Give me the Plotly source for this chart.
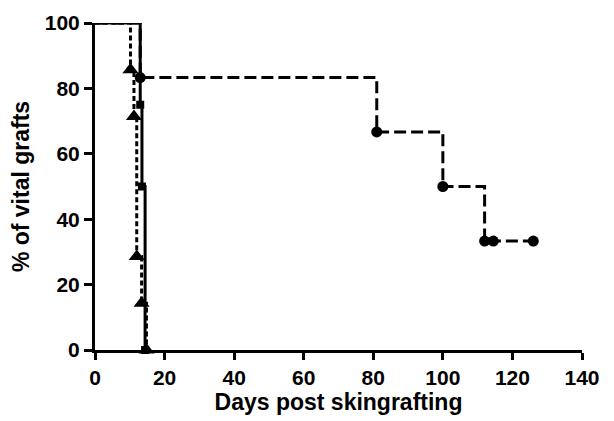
import plotly.graph_objects as go

# Kaplan-Meier style data (days, % vital grafts)
days_circle = [0, 13.0, 81, 100, 112, 114.5, 126]
surv_circle = [100, 83.3, 66.7, 50, 33.3, 33.3, 33.3]

days_tri = [0, 10.2, 11.2, 12.0, 13.4, 14.8]
surv_tri = [100, 85.7, 71.4, 28.6, 14.3, 0]

days_sq = [0, 13.0, 13.5, 14.4]
surv_sq = [100, 75, 50, 0]

x_ticks = [0, 20, 40, 60, 80, 100, 120, 140]
y_ticks = [0, 20, 40, 60, 80, 100]

fig = go.Figure()

# dashed / circles
fig.add_trace(go.Scatter(x=days_circle, y=surv_circle, mode="lines", line_shape="hv",
                         line=dict(color="black", width=3, dash="12px,5px"),
                         cliponaxis=False, showlegend=False))
fig.add_trace(go.Scatter(x=days_circle[1:], y=surv_circle[1:], mode="markers",
                         marker=dict(symbol="circle", size=11, color="black"),
                         cliponaxis=False, showlegend=False))
# dotted / triangles
fig.add_trace(go.Scatter(x=days_tri, y=surv_tri, mode="lines", line_shape="hv",
                         line=dict(color="black", width=3, dash="5px,3px"),
                         cliponaxis=False, showlegend=False))
fig.add_trace(go.Scatter(x=days_tri[1:], y=surv_tri[1:], mode="markers",
                         marker=dict(symbol="triangle-up", size=14, color="black"),
                         cliponaxis=False, showlegend=False))
# solid / squares
fig.add_trace(go.Scatter(x=days_sq, y=surv_sq, mode="lines", line_shape="hv",
                         line=dict(color="black", width=3),
                         cliponaxis=False, showlegend=False))
fig.add_trace(go.Scatter(x=days_sq[1:], y=surv_sq[1:], mode="markers",
                         marker=dict(symbol="square", size=8, color="black"),
                         cliponaxis=False, showlegend=False))

tick_font = dict(family="Liberation Sans, Arial", size=21, color="black")
title_font = dict(family="Liberation Sans, Arial", size=23, color="black")
# page body has an 8px default margin, so the figure is 8px smaller each way
fig.update_layout(
    width=606, height=413,
    margin=dict(l=87, r=32, t=15, b=71, autoexpand=False),
    plot_bgcolor="white", paper_bgcolor="white",
    font=dict(family="Liberation Sans, Arial", color="black"),
    xaxis=dict(range=[0, 140], tickvals=x_ticks, ticktext=[f"<b>{v}</b>" for v in x_ticks],
               showgrid=False, zeroline=False, showline=True, linecolor="black", linewidth=3,
               ticks="outside", ticklen=7, tickwidth=3, tickcolor="black",
               tickfont=tick_font, automargin=False,
               title=dict(text="<b>Days post skingrafting</b>", font=title_font, standoff=4)),
    yaxis=dict(range=[0, 100], tickvals=y_ticks, ticktext=[f"<b>{v}</b>" for v in y_ticks],
               showgrid=False, zeroline=False, showline=True, linecolor="black", linewidth=3,
               ticks="outside", ticklen=8, tickwidth=3, tickcolor="black",
               tickfont=tick_font, automargin=False,
               title=dict(text="<b>% of vital grafts</b>", font=title_font, standoff=10)),
)

fig.write_html("out.html")
